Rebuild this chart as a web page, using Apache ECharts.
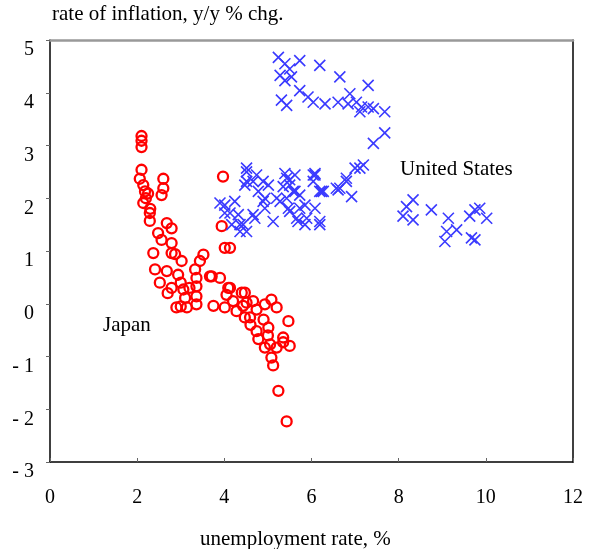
<!DOCTYPE html>
<html><head><meta charset="utf-8">
<script src="https://cdn.jsdelivr.net/npm/echarts@6/dist/echarts.min.js"></script>
<style>html,body{margin:0;padding:0;background:#fff}#c{width:590px;height:549px}</style>
</head><body><div id="c"></div>
<script>
const xTicks = [0, 2, 4, 6, 8, 10, 12];
const yTicks = [-3, -2, -1, 0, 1, 2, 3, 4, 5];
const japan = [
[2.10,3.18],[2.10,3.09],[2.10,2.97],[2.10,2.54],[2.06,2.37],[2.14,2.25],[2.18,2.13],[2.25,2.09],[2.14,1.91],[2.29,1.72],[2.29,1.57],
[2.60,2.37],[2.60,2.19],[2.56,2.06],[3.97,2.41],[3.94,1.47],[2.68,1.53],[2.79,1.43],[2.48,1.34],[2.56,1.21],[2.79,1.15],[2.37,0.96],
[2.79,0.96],[2.87,0.94],[3.02,0.81],[3.52,0.93],[3.44,0.81],[4.01,1.06],[4.13,1.06],[2.41,0.65],[2.68,0.62],[2.94,0.55],[3.33,0.65],
[3.36,0.49],[2.52,0.40],[2.79,0.30],[3.06,0.27],[3.36,0.33],[3.67,0.52],[3.90,0.49],[3.10,0.11],[3.36,0.14],[3.36,-0.01],[2.90,-0.07],
[3.14,-0.07],[3.75,-0.04],[4.01,-0.07],[4.09,0.30],[4.05,0.17],[4.28,-0.14],[4.40,0.21],[4.43,-0.04],[3.71,0.52],[4.13,0.30],[4.47,0.21],
[4.51,0.02],[4.47,-0.26],[4.59,-0.26],[4.74,-0.11],[4.66,0.05],[4.93,-0.01],[5.08,0.08],[5.20,-0.07],[4.74,-0.52],[4.78,-0.67],[5.01,-0.45],
[4.93,-0.83],[5.08,-1.02],[5.12,-1.17],[5.20,-0.83],[5.35,-0.64],[5.50,-0.80],[5.47,-0.33],[5.24,-1.65],[5.43,-2.23],[5.35,-0.73],[5.05,-0.77],
[2.20,2.00],[2.30,1.80],[3.00,0.40],[2.70,0.20],[3.20,0.30],[4.20,0.05],[4.60,-0.40],[4.90,-0.30],[5.00,-0.60],[3.00,-0.05]
];
const unitedStates = [
[5.24,4.67],[5.39,4.55],[5.73,4.61],[6.19,4.52],[5.50,4.45],[5.28,4.33],[5.54,4.30],[5.39,4.23],[6.65,4.30],[7.30,4.14],[5.73,4.04],
[5.31,3.86],[5.43,3.76],[5.92,3.92],[6.04,3.82],[6.31,3.79],[6.61,3.82],[6.88,3.98],[6.84,3.79],[7.03,3.82],[7.15,3.73],[7.30,3.73],
[7.42,3.70],[7.11,3.64],[7.68,3.64],[7.68,3.24],[7.42,3.04],[7.19,2.63],[7.00,2.57],[6.80,2.38],[6.61,2.16],[6.92,2.03],[6.08,2.47],
[6.23,2.13],[4.51,2.50],[4.47,2.25],[4.66,2.32],[4.78,2.13],[5.01,2.25],[4.93,2.00],[5.39,2.47],[5.50,2.35],[5.62,2.44],[5.35,2.22],
[5.58,2.13],[5.43,2.00],[5.73,2.06],[5.85,1.87],[5.47,1.81],[5.69,1.56],[5.85,1.50],[6.19,1.50],[6.08,2.44],[6.27,2.13],[3.90,1.91],
[4.01,1.72],[4.24,1.94],[4.32,1.69],[4.17,1.50],[4.43,1.50],[4.51,1.37],[4.70,1.62],[4.93,1.81],[5.12,1.56],[5.20,2.00],[6.57,2.19],
[6.08,1.81],[4.51,2.57],[4.74,2.44],[4.51,2.32],[4.89,2.32],[5.43,2.38],[5.50,2.25],[5.62,2.13],[6.04,2.44],[6.04,2.32],[6.19,2.13],
[6.65,2.19],[6.80,2.32],[7.11,2.57],[5.73,1.81],[6.19,1.56],[4.01,1.87],[4.13,1.72],[4.36,1.50],[4.36,1.37],[4.66,1.69],[4.89,1.94],
[5.28,1.94],[5.50,1.75],[5.66,1.62],[5.89,1.62],
[8.33,1.97],[8.18,1.84],[8.10,1.66],[8.33,1.59],[8.75,1.78],[9.14,1.62],[9.10,1.37],[9.06,1.18],[9.33,1.40],[9.63,1.66],[9.75,1.78],
[9.86,1.81],[10.02,1.62],[9.67,1.25],[9.75,1.21]
];
const yTitle = 'rate of inflation, y/y % chg.';
const xTitle = 'unemployment rate, %';
const usLabel = 'United States';
const jpLabel = 'Japan';

const serif = '"Liberation Serif", "DejaVu Serif", serif';
const chart = echarts.init(document.getElementById('c'), null, {renderer: 'canvas'});
chart.setOption({
  animation: false,
  backgroundColor: '#fff',
  grid: {left: 50, right: 17, top: 40, bottom: 87, containLabel: false},
  xAxis: [{
    type: 'value', min: 0, max: 12, interval: 2,
    axisLine: {show: true, onZero: false, lineStyle: {color: '#000', width: 1.5}},
    axisTick: {show: true, inside: true, length: 4, lineStyle: {color: '#666'}},
    splitLine: {show: false},
    axisLabel: {fontFamily: serif, fontSize: 20, color: '#000', margin: 26}
  }, {
    type: 'value', min: 0, max: 12, position: 'top',
    axisLine: {show: true, onZero: false, lineStyle: {color: '#999', width: 2.5}},
    axisTick: {show: false}, axisLabel: {show: false}, splitLine: {show: false}
  }],
  yAxis: [{
    type: 'value', min: -3, max: 5, interval: 1,
    axisLine: {show: true, onZero: false, lineStyle: {color: '#000', width: 1.5}},
    axisTick: {show: true, length: 4, lineStyle: {color: '#666'}},
    splitLine: {show: false},
    axisLabel: {fontFamily: serif, fontSize: 20, color: '#000', margin: 16, verticalAlign: 'top',
      formatter: v => v < 0 ? '- ' + Math.abs(v) : String(v)}
  }, {
    type: 'value', min: -3, max: 5, position: 'right',
    axisLine: {show: true, onZero: false, lineStyle: {color: '#000', width: 1.5}},
    axisTick: {show: false}, axisLabel: {show: false}, splitLine: {show: false}
  }],
  series: [{
    name: 'Japan', type: 'scatter', data: japan,
    symbol: 'circle', symbolSize: 10,
    itemStyle: {color: 'rgba(255,255,255,0)', borderColor: '#ff0000', borderWidth: 2.3, opacity: 1}
  }, {
    name: 'United States', type: 'scatter', data: unitedStates,
    symbol: 'path://M0,0L10,10M10,0L0,10', symbolSize: 11,
    itemStyle: {color: 'none', borderColor: '#3a3aff', borderWidth: 1.6, opacity: 1}
  }],
  graphic: [
    {type: 'text', left: 52, top: 4, style: {text: yTitle, font: '21px ' + serif, fill: '#000'}},
    {type: 'text', left: 200, top: 529, style: {text: xTitle, font: '21px ' + serif, fill: '#000'}},
    {type: 'text', left: 400, top: 159, style: {text: usLabel, font: '21px ' + serif, fill: '#000'}},
    {type: 'text', left: 103, top: 315, style: {text: jpLabel, font: '21px ' + serif, fill: '#000'}}
  ]
});
</script></body></html>
